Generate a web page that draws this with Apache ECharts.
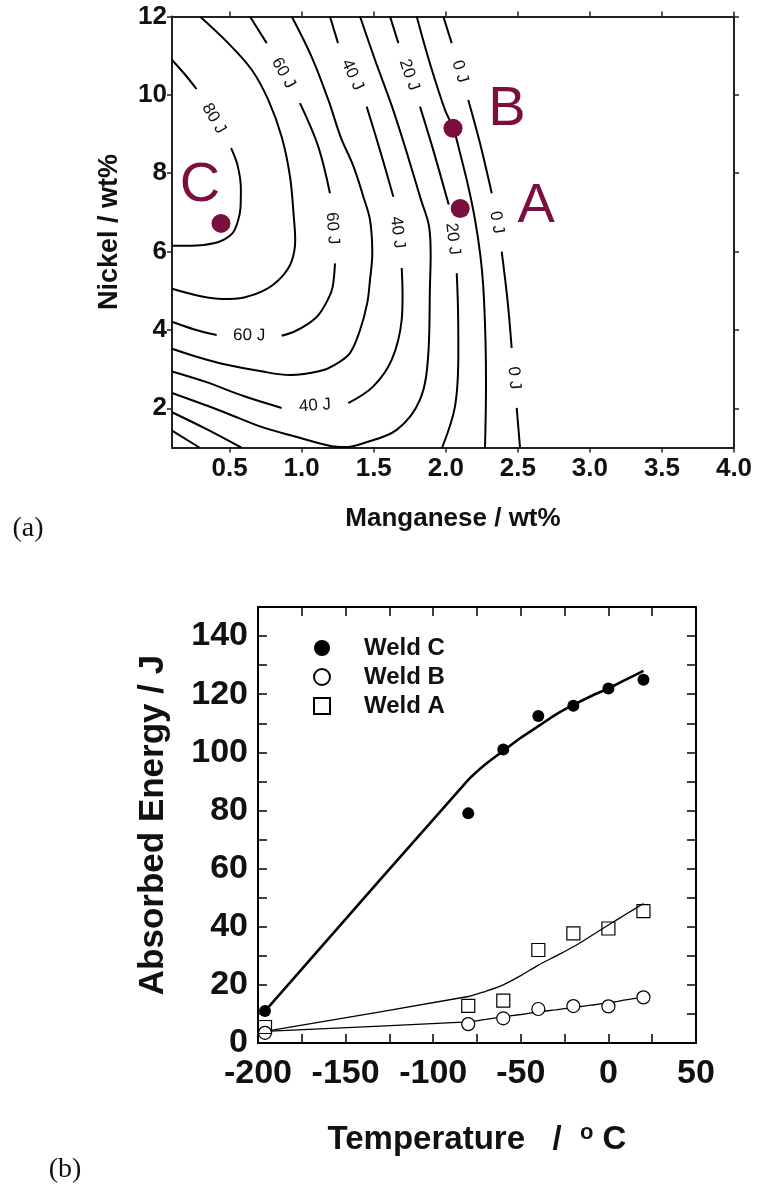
<!DOCTYPE html>
<html><head><meta charset="utf-8">
<script src="https://cdn.jsdelivr.net/npm/echarts@6/dist/echarts.min.js"></script>
<style>html,body{margin:0;padding:0;background:#fff}#c{width:758px;height:1191px}</style>
</head><body><div id="c"></div>
<script>
// ================= (a) contour map: Manganese vs Nickel =================
const xTicksA = [0.5, 1.0, 1.5, 2.0, 2.5, 3.0, 3.5, 4.0];
const yTicksA = [2, 4, 6, 8, 10, 12];

// contour lines [Mn, Ni]; null = gap where the level label sits
const contour80 = [[0.1,10.89],[0.19,10.52],[0.27,10.15], null, [0.51,8.64],[0.555,8.2],[0.578,7.6],[0.575,7.1],[0.555,6.75],[0.52,6.47],[0.44,6.27],[0.32,6.17],[0.2,6.15],[0.1,6.15]];
const contour70 = [[0.294,12],[0.49,11.32],[0.653,10.64],[0.768,9.87],[0.861,8.93],[0.919,7.91],[0.945,6.9],[0.955,6.3],[0.93,5.75],[0.86,5.35],[0.745,5.02],[0.6,4.83],[0.45,4.79],[0.3,4.86],[0.1,5.05]];
const contour60 = [[0.641,12],[0.757,11.32], null, [0.988,9.79],[1.115,8.68],[1.196,7.49], null, [1.231,5.70],[1.215,5.1],[1.185,4.8],[1.12,4.4],[1.046,4.16],[0.95,3.96],[0.861,3.85], null, [0.41,3.87],[0.25,4.02],[0.1,4.21]];
const contour50 = [[0.931,12],[1.069,10.97],[1.185,9.87],[1.27,8.93],[1.36,8.17],[1.428,7.4],[1.474,6.81],[1.49,5.96],[1.474,5.28],[1.455,4.69],[1.405,4.0],[1.335,3.41],[1.23,3.11],[1.127,2.95],[0.92,2.85],[0.71,2.95],[0.48,3.11],[0.294,3.29],[0.1,3.52]];
const contour40 = [[1.196,12],[1.252,11.32], null, [1.451,9.70],[1.543,8.59],[1.636,7.40], null, [1.694,5.58],[1.70,4.9],[1.694,4.26],[1.625,3.24],[1.497,2.56],[1.323,2.13], null, [0.861,2.01],[0.607,2.30],[0.329,2.68],[0.1,2.94]];
const contour30 = [[1.405,12],[1.509,10.89],[1.627,9.70],[1.724,8.59],[1.828,7.32],[1.884,6.64],[1.895,5.9],[1.89,5.11],[1.879,3.41],[1.821,2.22],[1.659,1.45],[1.428,1.11],[1.3,1.01],[1.2,1.04],[0.954,1.28],[0.711,1.54],[0.45,1.92],[0.1,2.39]];
const contour20 = [[1.613,12],[1.671,11.32], null, [1.821,9.70],[1.913,8.59],[2.02,7.2], null, [2.076,5.45],[2.085,4.5],[2.087,3.41],[2.064,2.05],[1.975,1.0]];
const contour20b = [[0.1,1.9],[0.35,1.45],[0.58,1.0]];
const contour10 = [[1.798,12],[1.89,10.8],[1.995,9.61],[2.052,9.15],[2.099,8.51],[2.156,7.66],[2.203,6.81],[2.24,5.9],[2.26,5.11],[2.275,3.8],[2.279,2.56],[2.272,1.0]];
const contour10b = [[0.1,1.43],[0.29,1.0]];
const contour0 = [[1.983,12],[2.041,11.32], null, [2.156,9.87],[2.237,8.77],[2.319,7.49], null, [2.388,6.0],[2.43,4.7],[2.457,3.54], null, [2.492,2.01],[2.515,1.0]];

const contourLevels = ['80 J','70 J','60 J','50 J','40 J','30 J','20 J','20 J','10 J','10 J','0 J'];
const contourLines = [contour80, contour70, contour60, contour50, contour40, contour30, contour20, contour20b, contour10, contour10b, contour0];

// weld compositions
const weldNames = ['C', 'B', 'A'];
const weldMn = [0.44, 2.05, 2.10];
const weldNi = [6.72, 9.15, 7.10];

// ================= (b) Charpy curves =================
const xTicksB = [-200, -150, -100, -50, 0, 50];
const yTicksB = [0, 20, 40, 60, 80, 100, 120, 140];
const tempC = [-196, -80, -60, -40, -20, 0, 20];
const weldC = [11, 79, 101, 112.5, 116, 122, 125];
const weldB = [3.5, 6.5, 8.5, 11.7, 12.7, 12.6, 15.7];
const weldA = [5.5, 12.8, 14.6, 32, 37.7, 39.4, 45.4];
const fitT = [-196, -80, -70, -60, -50, -40, -30, -20, -10, 0, 10, 20];
const fitC = [11, 90.5, 96, 100.5, 105, 109, 113, 116.3, 119.3, 122, 125, 128];
const fitA = [4, 16, 17.8, 20, 23.2, 26.8, 29.9, 33.1, 36.8, 40.6, 44.3, 48];
const fitB = [4, 7.3, 8.1, 9, 9.8, 10.7, 11.4, 12.2, 13, 13.8, 14.8, 15.8];

// ---------------------------------------------------------------
const MAROON = '#7a0e3e';
const FRAME_A = '#1c2424';
const SANS = 'Liberation Sans';

function splitSegments(pts) {
  const segs = []; let cur = [];
  pts.forEach(p => { if (p === null) { if (cur.length) segs.push(cur); cur = []; } else cur.push(p); });
  if (cur.length) segs.push(cur);
  return segs;
}
const contourLabels = [];
contourLines.forEach((pts, i) => {
  for (let k = 1; k < pts.length - 1; k++) {
    if (pts[k] === null) contourLabels.push({ a: pts[k - 1], b: pts[k + 1], text: contourLevels[i] });
  }
});

const series = [];
contourLines.forEach(pts => {
  splitSegments(pts).forEach(seg => series.push({
    type: 'line', xAxisIndex: 0, yAxisIndex: 0, data: seg, showSymbol: false, smooth: 0.35,
    lineStyle: { color: '#000', width: 2 }, silent: true, z: 2
  }));
});
series.push({
  type: 'custom', xAxisIndex: 0, yAxisIndex: 0, silent: true, z: 5,
  data: contourLabels.map(l => [(l.a[0] + l.b[0]) / 2, (l.a[1] + l.b[1]) / 2]),
  renderItem: function (params, api) {
    const l = contourLabels[params.dataIndex];
    const p1 = api.coord(l.a), p2 = api.coord(l.b);
    let dx = p2[0] - p1[0], dy = p2[1] - p1[1];
    if (dx < 0) { dx = -dx; dy = -dy; }
    const ang = Math.atan2(dy, dx);
    return {
      type: 'text', x: (p1[0] + p2[0]) / 2, y: (p1[1] + p2[1]) / 2, rotation: -ang,
      style: { text: l.text, x: 0, y: 0, align: 'center', verticalAlign: 'middle',
        fontSize: 17, fontFamily: SANS, fill: '#111' }
    };
  }
});
const letterOffset = { C: [-21, -38], B: [54, -19], A: [76, -2] };
series.push({
  type: 'scatter', xAxisIndex: 0, yAxisIndex: 0, symbol: 'circle', symbolSize: 19, z: 6,
  itemStyle: { color: MAROON, opacity: 1 },
  label: { show: true, formatter: '{b}', position: 'inside', fontSize: 56, color: MAROON, opacity: 1,
    fontFamily: SANS, textBorderWidth: 0 },
  data: weldNames.map((n, i) => ({ name: n, value: [weldMn[i], weldNi[i]], label: { offset: letterOffset[n] } }))
});

// (b) series
const zip = (xs, ys) => xs.map((x, i) => [x, ys[i]]);
series.push({ name: 'fitC', type: 'line', xAxisIndex: 2, yAxisIndex: 2, data: zip(fitT, fitC), showSymbol: false,
  smooth: 0.3, lineStyle: { color: '#000', width: 2.6 }, z: 2 });
series.push({ name: 'fitA', type: 'line', xAxisIndex: 2, yAxisIndex: 2, data: zip(fitT, fitA), showSymbol: false,
  smooth: 0.3, lineStyle: { color: '#000', width: 1.3 }, z: 2 });
series.push({ name: 'fitB', type: 'line', xAxisIndex: 2, yAxisIndex: 2, data: zip(fitT, fitB), showSymbol: false,
  smooth: 0.3, lineStyle: { color: '#000', width: 1.3 }, z: 2 });
series.push({ name: 'Weld C', type: 'scatter', xAxisIndex: 2, yAxisIndex: 2, data: zip(tempC, weldC),
  symbol: 'circle', symbolSize: 12, itemStyle: { color: '#000', opacity: 1 }, z: 4 });
series.push({ name: 'Weld B', type: 'scatter', xAxisIndex: 2, yAxisIndex: 2, data: zip(tempC, weldB),
  symbol: 'circle', symbolSize: 13, itemStyle: { color: '#fff', borderColor: '#000', borderWidth: 1.2, opacity: 1 }, z: 4 });
series.push({ name: 'Weld A', type: 'scatter', xAxisIndex: 2, yAxisIndex: 2, data: zip(tempC, weldA),
  symbol: 'rect', symbolSize: 13, itemStyle: { color: 'rgba(255,255,255,0)', borderColor: '#000', borderWidth: 1.2, opacity: 1 }, z: 4 });

function frameAxis(extra) {
  return Object.assign({ type: 'value', splitLine: { show: false } }, extra);
}
const lineA = { show: true, onZero: false, lineStyle: { color: FRAME_A, width: 2 } };
const lineB = { show: true, onZero: false, lineStyle: { color: '#000', width: 2 } };
const tickA = { show: true, length: 5, inside: false, lineStyle: { color: FRAME_A, width: 1.5 } };
const tickB = { show: true, inside: true, length: 9, lineStyle: { color: '#000', width: 1.5 } };

const option = {
  animation: false,
  backgroundColor: '#fff',
  grid: [
    { left: 172, top: 16.5, width: 562, height: 431 },
    { left: 258, top: 607, width: 438, height: 436 }
  ],
  xAxis: [
    frameAxis({ gridIndex: 0, position: 'bottom', min: 0.1, max: 4.0, axisLine: lineA,
      axisTick: Object.assign({}, tickA, { customValues: xTicksA }),
      axisLabel: { customValues: xTicksA, formatter: v => v.toFixed(1), fontSize: 26, fontWeight: 'bold',
        fontFamily: SANS, color: '#111', margin: 8 } }),
    frameAxis({ gridIndex: 0, position: 'top', min: 0.1, max: 4.0, axisLine: lineA,
      axisTick: Object.assign({}, tickA, { customValues: xTicksA }), axisLabel: { show: false } }),
    frameAxis({ gridIndex: 1, position: 'bottom', min: -200, max: 50, interval: 25, axisLine: lineB,
      axisTick: tickB,
      axisLabel: { customValues: xTicksB, fontSize: 34, fontWeight: 'bold', fontFamily: SANS, color: '#111', margin: 14 } }),
    frameAxis({ gridIndex: 1, position: 'top', min: -200, max: 50, interval: 25, axisLine: lineB,
      axisTick: tickB, axisLabel: { show: false } })
  ],
  yAxis: [
    frameAxis({ gridIndex: 0, position: 'left', min: 1, max: 12, axisLine: lineA,
      axisTick: Object.assign({}, tickA, { customValues: yTicksA }),
      axisLabel: { customValues: yTicksA, fontSize: 26, fontWeight: 'bold', fontFamily: SANS, color: '#111', margin: 5 } }),
    frameAxis({ gridIndex: 0, position: 'right', min: 1, max: 12, axisLine: lineA,
      axisTick: Object.assign({}, tickA, { customValues: yTicksA }), axisLabel: { show: false } }),
    frameAxis({ gridIndex: 1, position: 'left', min: 0, max: 150, interval: 10, axisLine: lineB,
      axisTick: tickB,
      axisLabel: { customValues: yTicksB, fontSize: 34, fontWeight: 'bold', fontFamily: SANS, color: '#111', margin: 10 } }),
    frameAxis({ gridIndex: 1, position: 'right', min: 0, max: 150, interval: 10, axisLine: lineB,
      axisTick: tickB, axisLabel: { show: false } })
  ],
  legend: {
    orient: 'vertical', left: 308, top: 631, itemWidth: 16, itemHeight: 16, itemGap: 5,
    selectedMode: false,
    data: [{ name: 'Weld C' }, { name: 'Weld B' }, { name: 'Weld A' }],
    textStyle: { fontSize: 24, fontWeight: 'bold', fontFamily: SANS, color: '#111', padding: [0, 0, 0, 29] }
  },
  graphic: [
    { type: 'text', x: 110, y: 232, rotation: Math.PI / 2,
      style: { text: 'Nickel / wt%', align: 'center', verticalAlign: 'middle', fontSize: 27, fontWeight: 'bold', fontFamily: SANS, fill: '#111' } },
    { type: 'text', x: 453, y: 519,
      style: { text: 'Manganese / wt%', align: 'center', verticalAlign: 'middle', fontSize: 26, fontWeight: 'bold', fontFamily: SANS, fill: '#111' } },
    { type: 'text', x: 28, y: 529,
      style: { text: '(a)', align: 'center', verticalAlign: 'middle', fontSize: 28, fontFamily: 'Liberation Serif', fill: '#111' } },
    { type: 'text', x: 153, y: 825, rotation: Math.PI / 2,
      style: { text: 'Absorbed Energy / J', align: 'center', verticalAlign: 'middle', fontSize: 35, fontWeight: 'bold', fontFamily: SANS, fill: '#111' } },
    { type: 'text', x: 477, y: 1140,
      style: { text: '{t|Temperature   /  }{s|o}{t| C}', align: 'center', verticalAlign: 'middle',
        rich: { t: { fontSize: 33, fontWeight: 'bold', fontFamily: SANS, fill: '#111', lineHeight: 36 },
                s: { fontSize: 22, fontWeight: 'bold', fontFamily: SANS, fill: '#111', verticalAlign: 'top', lineHeight: 22 } } } },
    { type: 'text', x: 65, y: 1170,
      style: { text: '(b)', align: 'center', verticalAlign: 'middle', fontSize: 28, fontFamily: 'Liberation Serif', fill: '#111' } }
  ],
  series: series
};
const chart = echarts.init(document.getElementById('c'), null, { renderer: 'canvas' });
chart.setOption(option);
</script></body></html>
